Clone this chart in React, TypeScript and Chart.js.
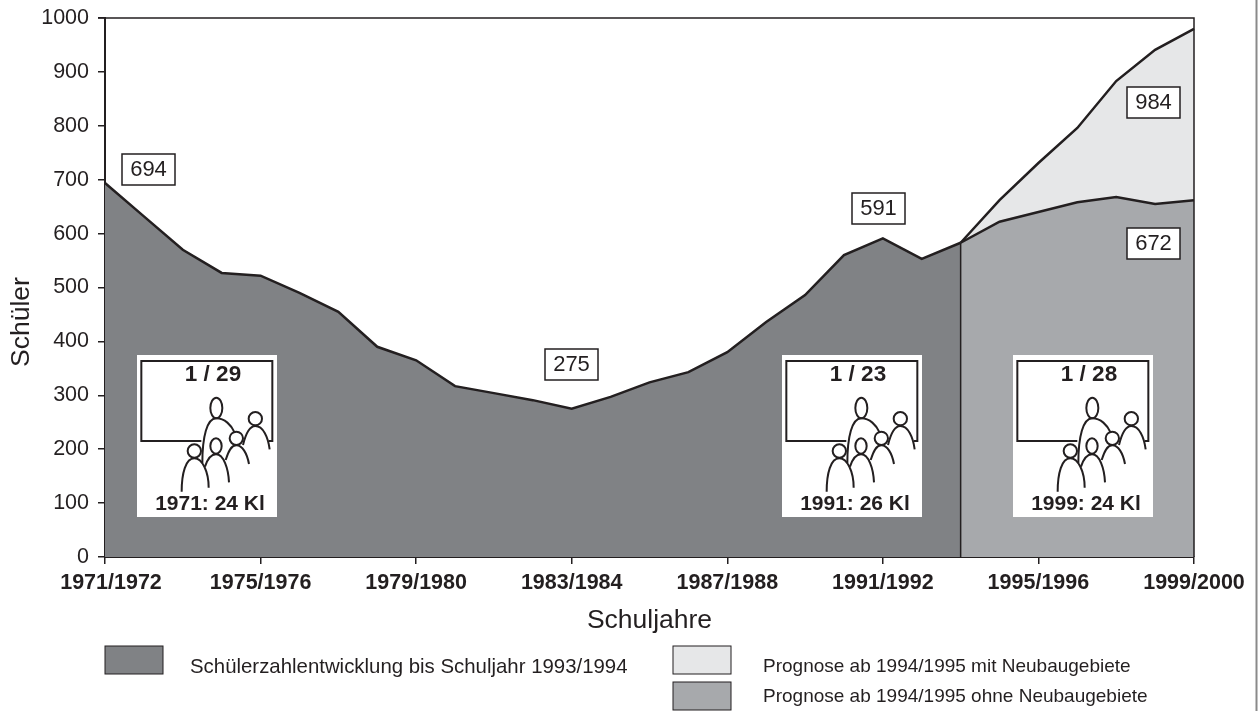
import React, { useEffect, useRef } from "react";
import { Chart, registerables } from "chart.js";

Chart.register(...registerables);

const schoolYears = [
  "1971/1972","1972/1973","1973/1974","1974/1975","1975/1976","1976/1977","1977/1978","1978/1979",
  "1979/1980","1980/1981","1981/1982","1982/1983","1983/1984","1984/1985","1985/1986","1986/1987",
  "1987/1988","1988/1989","1989/1990","1990/1991","1991/1992","1992/1993","1993/1994","1994/1995",
  "1995/1996","1996/1997","1997/1998","1998/1999","1999/2000",
];
const n = null;
const history = [694,632,570,527,522,490,455,390,365,317,304,291,275,297,324,343,380,436,486,560,591,553,583,n,n,n,n,n,n];
const withoutNew = [n,n,n,n,n,n,n,n,n,n,n,n,n,n,n,n,n,n,n,n,n,n,583,622,640,658,668,655,662];
const withNew = [n,n,n,n,n,n,n,n,n,n,n,n,n,n,n,n,n,n,n,n,n,n,583,662,731,796,883,941,980];

const INK = "#231f20";
const DARK = "#808285";
const MID = "#a7a9ac";
const LIGHT = "#e6e7e8";
const FONT = '"Liberation Sans", Arial, sans-serif';

const valueBoxes = [
  { text: "694", x: 122, y: 154 },
  { text: "591", x: 852, y: 193 },
  { text: "275", x: 545, y: 349 },
  { text: "984", x: 1127, y: 87 },
  { text: "672", x: 1127, y: 228 },
];
const pictos = [
  { x: 137, ratio: "1 / 29", caption: "1971: 24 Kl" },
  { x: 782, ratio: "1 / 23", caption: "1991: 26 Kl" },
  { x: 1013, ratio: "1 / 28", caption: "1999: 24 Kl" },
];
const legendItems = [
  { text: "Schülerzahlentwicklung bis Schuljahr 1993/1994", color: DARK, sx: 105, sy: 646, tx: 190, ty: 667, size: 20.4 },
  { text: "Prognose ab 1994/1995 mit Neubaugebiete", color: LIGHT, sx: 673, sy: 646, tx: 763, ty: 667, size: 19 },
  { text: "Prognose ab 1994/1995 ohne Neubaugebiete", color: MID, sx: 673, sy: 682, tx: 763, ty: 697, size: 19 },
];

function drawPicto(ctx: CanvasRenderingContext2D, ox: number, p: { ratio: string; caption: string }) {
  const oy = 355;
  ctx.save();
  ctx.fillStyle = "#ffffff";
  ctx.fillRect(ox, oy, 140, 162);
  ctx.translate(ox - 112 / 3, oy - 45 / 3);
  ctx.scale(1 / 3, 1 / 3);
  ctx.strokeStyle = INK;
  ctx.lineWidth = 6;
  const paths = [
    "M305 303 L125 303 L125 63 L518 63 L518 303 L508 303",
    "M308 370 C308 290 322 235 350 235 C375 235 395 255 405 278",
    "M430 315 C438 282 448 258 467 258 C490 258 505 290 510 328",
    "M378 360 C385 338 393 316 410 316 C428 316 442 340 448 372",
    "M316 380 C322 362 330 343 349 343 C372 343 386 385 388 427",
    "M246 455 C246 400 258 355 284 355 C308 355 327 395 327 443",
  ];
  paths.forEach((d) => ctx.stroke(new Path2D(d)));
  const heads = [
    [350, 204, 18, 31],
    [467, 236, 20, 20],
    [410, 295, 20, 20],
    [349, 318, 17, 23],
    [284, 333, 20, 20],
  ];
  heads.forEach(([cx, cy, rx, ry]) => {
    ctx.beginPath();
    ctx.ellipse(cx, cy, rx, ry, 0, 0, Math.PI * 2);
    ctx.stroke();
  });
  ctx.restore();
  ctx.fillStyle = INK;
  ctx.textAlign = "center";
  ctx.textBaseline = "middle";
  ctx.font = `bold 22.5px ${FONT}`;
  ctx.fillText(p.ratio, ox + 76, oy + 20);
  ctx.font = `bold 21px ${FONT}`;
  ctx.fillText(p.caption, ox + 73, oy + 149);
}

const overlay = {
  id: "overlay",
  beforeDraw(chart: any) {
    const items = chart.scales.x.getLabelItems(chart.chartArea);
    if (items[0] && !chart.$shifted) {
      items[0].options.translation[0] += 6;
      chart.$shifted = true;
    }
  },
  afterDatasetsDraw(chart: any) {
    const { ctx, scales, chartArea } = chart;
    const { x, y } = scales;
    ctx.save();
    // boundary between history and forecast
    ctx.strokeStyle = INK;
    ctx.lineWidth = 1.5;
    ctx.beginPath();
    ctx.moveTo(x.getPixelForValue(22), y.getPixelForValue(history[22]));
    ctx.lineTo(x.getPixelForValue(22), y.getPixelForValue(0));
    ctx.stroke();
    // top and right frame
    ctx.beginPath();
    ctx.moveTo(chartArea.left - 7, chartArea.top);
    ctx.lineTo(chartArea.right, chartArea.top);
    ctx.lineTo(chartArea.right, chartArea.bottom);
    ctx.stroke();
    // page edge
    ctx.strokeStyle = "#8a8a8a";
    ctx.lineWidth = 2;
    ctx.beginPath();
    ctx.moveTo(1256.5, 0);
    ctx.lineTo(1256.5, 711);
    ctx.stroke();

    pictos.forEach((p) => drawPicto(ctx, p.x, p));

    ctx.textAlign = "center";
    ctx.textBaseline = "middle";
    valueBoxes.forEach((b) => {
      ctx.fillStyle = "#ffffff";
      ctx.fillRect(b.x, b.y, 53, 31);
      ctx.strokeStyle = INK;
      ctx.lineWidth = 1.5;
      ctx.strokeRect(b.x, b.y, 53, 31);
      ctx.fillStyle = INK;
      ctx.font = `22px ${FONT}`;
      ctx.fillText(b.text, b.x + 26.5, b.y + 16);
    });

    // y-axis title
    ctx.save();
    ctx.translate(22, 322);
    ctx.rotate(-Math.PI / 2);
    ctx.fillStyle = INK;
    ctx.font = `26.5px ${FONT}`;
    ctx.fillText("Schüler", 0, 0);
    ctx.restore();

    // legend
    legendItems.forEach((l) => {
      ctx.fillStyle = l.color;
      ctx.fillRect(l.sx, l.sy, 58, 28);
      ctx.strokeStyle = INK;
      ctx.lineWidth = 1;
      ctx.strokeRect(l.sx, l.sy, 58, 28);
      ctx.fillStyle = INK;
      ctx.font = `${l.size}px ${FONT}`;
      ctx.textAlign = "left";
      ctx.fillText(l.text, l.tx, l.ty);
    });
    ctx.restore();
  },
};

export default function App() {
  const ref = useRef<HTMLCanvasElement>(null);
  useEffect(() => {
    document.body.style.margin = "0";
    const line = { borderColor: INK, borderWidth: 2.5, pointRadius: 0, tension: 0, fill: "origin" };
    const chart = new Chart(ref.current!, {
      type: "line",
      data: {
        labels: schoolYears,
        datasets: [
          { label: "Schülerzahlentwicklung bis Schuljahr 1993/1994", data: history, backgroundColor: DARK, ...line },
          { label: "Prognose ab 1994/1995 ohne Neubaugebiete", data: withoutNew, backgroundColor: MID, ...line },
          { label: "Prognose ab 1994/1995 mit Neubaugebiete", data: withNew, backgroundColor: LIGHT, ...line },
        ],
      },
      options: {
        responsive: false,
        animation: false,
        layout: { padding: { top: 18, right: 64, left: 0, bottom: 0 } },
        plugins: { legend: { display: false }, tooltip: { enabled: false } },
        scales: {
          x: {
            type: "category",
            afterBuildTicks: (s: any) => {
              s.ticks = s.ticks.filter((t: any) => t.value % 4 === 0);
            },
            afterFit: (s: any) => {
              s.height = 154;
            },
            grid: { drawOnChartArea: false, color: INK, tickLength: 7, lineWidth: 1.5 },
            border: { color: INK, width: 2 },
            ticks: {
              autoSkip: false,
              maxRotation: 0,
              padding: 6,
              color: INK,
              font: { family: FONT, size: 21.5, weight: "bold" },
            },
            title: {
              display: true,
              text: "Schuljahre",
              color: INK,
              font: { family: FONT, size: 26.5, lineHeight: 1 },
              padding: { top: 0, bottom: 77 },
            },
          },
          y: {
            min: 0,
            max: 1000,
            afterFit: (s: any) => {
              s.width = 105;
              s.paddingTop = 0;
              s.paddingBottom = 0;
            },
            grid: { drawOnChartArea: false, color: INK, tickLength: 7, lineWidth: 1.5 },
            border: { color: INK, width: 2 },
            ticks: {
              stepSize: 100,
              padding: 9,
              color: INK,
              font: { family: FONT, size: 21.5 },
              callback: (v: any) => String(v),
            },
          },
        },
      },
      plugins: [overlay],
    } as any);
    return () => chart.destroy();
  }, []);
  return <canvas ref={ref} width={1258} height={711} style={{ display: "block" }} />;
}
